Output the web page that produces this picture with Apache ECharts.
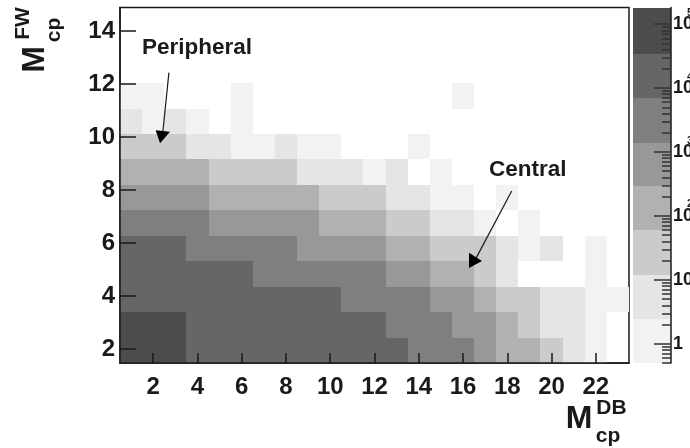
<!DOCTYPE html>
<html><head><meta charset="utf-8">
<style>html,body{margin:0;padding:0;background:#fff}#c{width:690px;height:448px}</style>
<script src="https://cdn.jsdelivr.net/npm/echarts@6/dist/echarts.min.js"></script>
</head><body><div id="c"></div>
<script>
// Shade level per cell (0 = empty). Rows run bottom to top, columns M_cp^DB = 1..23.
const row1  = [8,8,8,7,7,7,7,7,7,7,7,7,7,6,6,6,5,4,4,3,2,1,0];
const row2  = [8,8,8,7,7,7,7,7,7,7,7,7,6,6,6,5,5,4,3,2,2,1,0];
const row3  = [7,7,7,7,7,7,7,7,7,7,6,6,6,6,5,5,4,3,3,2,2,1,1];
const row4  = [7,7,7,7,7,7,6,6,6,6,6,6,5,5,4,4,3,2,0,0,0,1,0];
const row5  = [7,7,7,6,6,6,6,6,5,5,5,5,4,4,3,3,3,2,1,2,0,1,0];
const row6  = [6,6,6,6,5,5,5,5,5,4,4,4,3,3,2,2,1,0,1,0,0,0,0];
const row7  = [5,5,5,5,4,4,4,4,4,3,3,3,2,2,1,1,0,1,0,0,0,0,0];
const row8  = [4,4,4,4,3,3,3,3,2,2,2,1,2,0,1,0,0,0,0,0,0,0,0];
const row9  = [3,3,3,2,2,1,1,2,1,1,0,0,0,1,0,0,0,0,0,0,0,0,0];
const row10 = [2,1,2,1,0,1,0,0,0,0,0,0,0,0,0,0,0,0,0,0,0,0,0];
const row11 = [1,1,0,0,0,1,0,0,0,0,0,0,0,0,0,1,0,0,0,0,0,0,0];
const rows = [row1,row2,row3,row4,row5,row6,row7,row8,row9,row10,row11];
const palette = ['#ffffff','#f2f2f2','#e5e5e5','#cbcbcb','#b1b1b1','#989898','#7f7f7f','#666666','#4c4c4c'];
const xTicks = [2,4,6,8,10,12,14,16,18,20,22];
const yTicks = [2,4,6,8,10,12,14];
const xRange = [0.5,23.5];
const yRange = [1.47,14.89];
const yBinHeight = 0.9605;
// Colour scale edges (counts), bottom to top
const scaleEdges = [0.5,2.45,12,60,290,1400,7000,34000,182000];
const scaleMajor = [1,10,100,1000,10000,100000];
const scaleMinor = [0.5,0.6,0.7,0.8,0.9,2,3,4,5,6,7,8,9,20,30,40,50,60,70,80,90,200,300,400,500,600,700,800,900,
  2000,3000,4000,5000,6000,7000,8000,9000,20000,30000,40000,50000,60000,70000,80000,90000];
const scaleExponents = {100:'2',1000:'3',10000:'4',100000:'5'};
// Annotations in data units
const labels = [{text:'Peripheral',x:1.49,y:13.36},{text:'Central',x:17.17,y:8.75}];
const arrowLines = [[[2.71,12.43],[2.44,10.23]],[[18.2,7.96],[16.59,5.43]]];
const arrowHeads = [[[2.11,10.26],[2.76,10.2],[2.31,9.77]],[[16.27,5.63],[16.27,5.06],[16.86,5.32]]];

const FONT = '"Liberation Sans", Arial, Helvetica, sans-serif';
const INK = '#1a1a1a';
const cells = [];
rows.forEach((r,j)=>r.forEach((lv,i)=>{ if(lv>0) cells.push([i+1,j,lv]); }));
const bands = scaleEdges.slice(0,-1).map((e,i)=>[i]);

const chart = echarts.init(document.getElementById('c'),null,{renderer:'canvas'});
function boldText(text,x,y,size,rot){
  return {type:'text',x,y,rotation:rot||0,z:50,style:{text,fill:INK,font:'bold '+size+'px '+FONT,align:'center',verticalAlign:'middle'}};
}
const scaleGrid = {left:633,top:7.5,width:38,height:355.5,show:false,outerBoundsMode:'none'};
chart.setOption({
  animation:false,
  backgroundColor:'#fff',
  grid:[
    {left:120,top:7.5,width:509,height:355.5,show:true,borderColor:INK,borderWidth:1.5,backgroundColor:'#fff',outerBoundsMode:'none'},
    scaleGrid,
    scaleGrid
  ],
  xAxis:[
    {type:'value',gridIndex:0,min:xRange[0],max:xRange[1],position:'bottom',z:10,splitLine:{show:false},
     axisLine:{show:true,onZero:false,lineStyle:{color:INK,width:1.5}},
     axisTick:{show:true,inside:true,length:10,customValues:xTicks,lineStyle:{color:INK,width:1.5}},
     axisLabel:{show:true,customValues:xTicks,margin:12,color:INK,fontFamily:FONT,fontWeight:'bold',fontSize:24,formatter:v=>String(v)}},
    {type:'value',gridIndex:1,min:0,max:1,show:false},
    {type:'value',gridIndex:2,min:0,max:1,show:false}
  ],
  yAxis:[
    {type:'value',gridIndex:0,min:yRange[0],max:yRange[1],position:'left',z:10,splitLine:{show:false},
     axisLine:{show:true,onZero:false,lineStyle:{color:INK,width:1.5}},
     axisTick:{show:true,inside:true,length:16,customValues:yTicks,lineStyle:{color:INK,width:1.5}},
     axisLabel:{show:true,customValues:yTicks,margin:5,color:INK,fontFamily:FONT,fontWeight:'bold',fontSize:24,formatter:v=>String(v)}},
    {type:'log',logBase:10,gridIndex:1,min:scaleEdges[0],max:scaleEdges[8],position:'right',z:10,splitLine:{show:false},
     axisLine:{show:true,onZero:false,lineStyle:{color:INK,width:1.5}},
     axisTick:{show:true,inside:true,length:17,customValues:scaleMajor,lineStyle:{color:'#333',width:1.5}},
     axisLabel:{show:true,customValues:scaleMajor,margin:2,color:INK,fontFamily:FONT,fontWeight:'bold',fontSize:18,
       formatter:v=>String(Math.round(v)>=10?10:1)}},
    {type:'log',logBase:10,gridIndex:2,min:scaleEdges[0],max:scaleEdges[8],position:'right',z:10,splitLine:{show:false},
     axisLine:{show:false,onZero:false},
     axisTick:{show:true,inside:true,length:9,customValues:scaleMinor,lineStyle:{color:'#333',width:1.5}},
     axisLabel:{show:true,customValues:Object.keys(scaleExponents).map(Number),margin:16,color:INK,fontFamily:FONT,fontWeight:'bold',fontSize:11,
       verticalAlign:'bottom',padding:[0,0,6,0],formatter:v=>scaleExponents[Math.round(v)]||''}}
  ],
  series:[
    {type:'custom',name:'cells',xAxisIndex:0,yAxisIndex:0,z:2,clip:true,data:cells,encode:{x:0,y:1},
     renderItem(params,api){
       const c=api.value(0),j=api.value(1),lv=api.value(2);
       const a=api.coord([c-0.5,yRange[0]+j*yBinHeight]);
       const b=api.coord([c+0.5,yRange[0]+(j+1)*yBinHeight]);
       const x=Math.round(a[0]),y=Math.round(b[1]);
       return {type:'rect',shape:{x,y,width:Math.round(b[0])-x,height:Math.round(a[1])-y},style:{fill:palette[lv]}};
     }},
    {type:'custom',name:'scale',xAxisIndex:1,yAxisIndex:1,z:2,data:bands,encode:{y:0},
     renderItem(params,api){
       const i=api.value(0);
       const a=api.coord([0,scaleEdges[i]]),b=api.coord([1,scaleEdges[i+1]]);
       const y=Math.round(b[1]);
       return {type:'rect',shape:{x:a[0],y,width:b[0]-a[0],height:Math.round(a[1])-y},style:{fill:palette[i+1]}};
     }},
    {type:'custom',name:'annotations',xAxisIndex:0,yAxisIndex:0,z:20,clip:false,data:[0,1].map(i=>[i]),encode:{y:0},
     renderItem(params,api){
       const i=api.value(0);
       const l=labels[i],p=api.coord([l.x,l.y]);
       return {type:'group',children:[
         {type:'polyline',shape:{points:arrowLines[i].map(q=>api.coord(q))},style:{stroke:INK,lineWidth:1.2,fill:null}},
         {type:'polygon',shape:{points:arrowHeads[i].map(q=>api.coord(q))},style:{fill:'#000'}},
         {type:'text',x:p[0],y:p[1],style:{text:l.text,fill:INK,font:'bold 22.5px '+FONT,align:'left',verticalAlign:'middle'}}
       ]};
     }}
  ],
  graphic:{elements:[
    boldText('M',579,419,32),
    boldText('DB',611.5,408,21),
    boldText('cp',608,436,21),
    boldText('M',35,59.5,32,Math.PI/2),
    boldText('FW',23,23.5,21,Math.PI/2),
    boldText('cp',54,30,21,Math.PI/2)
  ]}
});
</script></body></html>
